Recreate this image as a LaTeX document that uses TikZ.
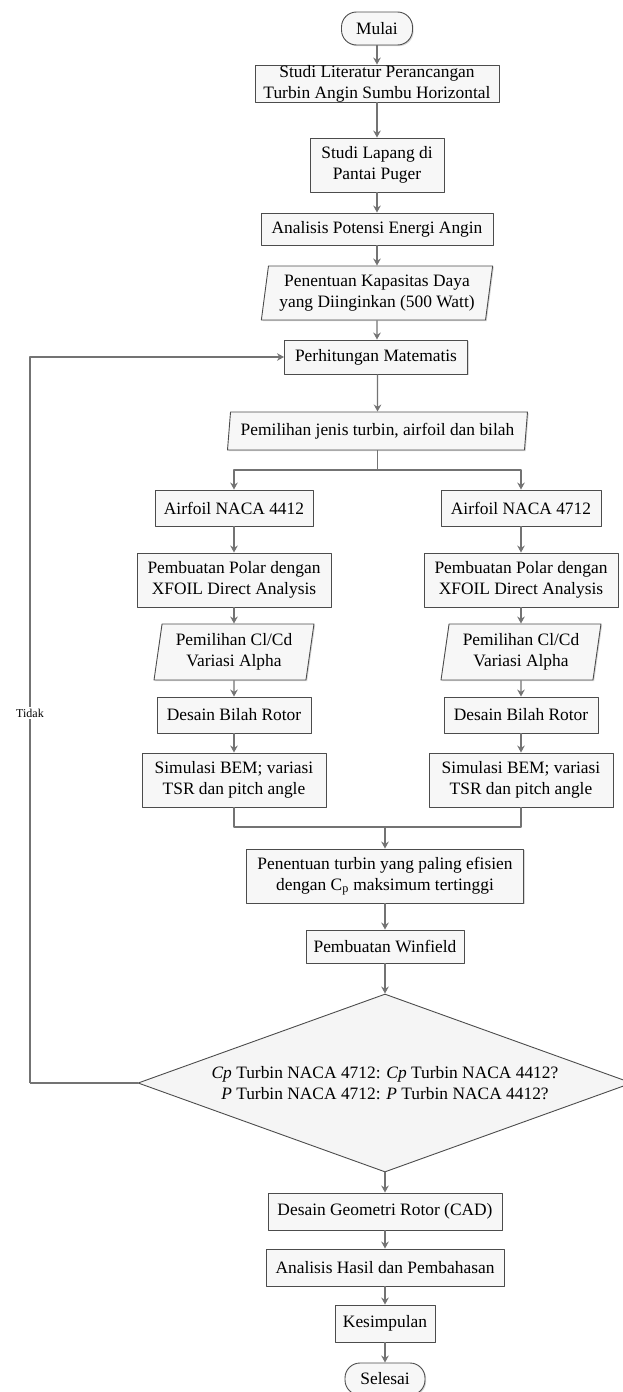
\documentclass[tikz,border=0pt]{standalone}
\usepackage{fontspec}
\setmainfont{Liberation Serif}
\usetikzlibrary{shapes.geometric,shadows,arrows.meta}
\begin{document}
\begin{tikzpicture}[x=1pt,y=-1pt,line join=round,>={Stealth[length=7pt,width=7.5pt]}]
 \tikzset{every node/.style={font=\fontsize{17.4}{21}\selectfont, align=center, inner sep=0pt},
  proc/.style={rectangle, draw=black!70, fill=black!3, line width=0.9pt,
   drop shadow={opacity=0.3, shadow xshift=1.2pt, shadow yshift=-1.2pt}},
  term/.style={proc, rounded corners=15pt},
  inout/.style={proc, trapezium, trapezium left angle=80, trapezium right angle=100, trapezium stretches=true},
  cond/.style={diamond, aspect=2.775, draw=black!70, fill=black!4, line width=0.9pt},
  arr/.style={->, draw=black!55, line width=1.3pt},
  ln/.style={draw=black!55, line width=1.1pt}}
 \useasboundingbox (0,0) rectangle (623,1392);
 % main column
 \node[term, minimum width=71, minimum height=33] (mulai) at (377,28.5) {Mulai};
 \node[proc, minimum width=244, minimum height=37] (lit) at (377,83.5) {Studi Literatur Perancangan\\Turbin Angin Sumbu Horizontal};
 \node[proc, minimum width=134, minimum height=54] (lapang) at (377,165) {Studi Lapang di\\Pantai Puger};
 \node[proc, minimum width=232, minimum height=32] (potensi) at (377,229) {Analisis Potensi Energi Angin};
 \node[inout, minimum width=232, minimum height=54] (daya) at (377,293) {Penentuan Kapasitas Daya\\yang Diinginkan (500 Watt)};
 \node[proc, minimum width=183, minimum height=34] (hitung) at (376,357) {Perhitungan Matematis};
 \node[inout, minimum width=301, minimum height=38] (jenis) at (377.5,431) {Pemilihan jenis turbin, airfoil dan bilah};
 % left branch
 \node[proc, minimum width=158, minimum height=36] (af1) at (234,508) {Airfoil NACA 4412};
 \node[proc, minimum width=194, minimum height=54] (pol1) at (234,580) {Pembuatan Polar dengan\\XFOIL Direct Analysis};
 \node[inout, minimum width=160, minimum height=56] (cl1) at (234,652) {Pemilihan Cl/Cd\\Variasi Alpha};
 \node[proc, minimum width=154, minimum height=36] (bil1) at (234,715) {Desain Bilah Rotor};
 \node[proc, minimum width=184, minimum height=54] (sim1) at (234,780) {Simulasi BEM; variasi\\TSR dan pitch angle};
 % right branch
 \node[proc, minimum width=160, minimum height=36] (af2) at (521,508) {Airfoil NACA 4712};
 \node[proc, minimum width=194, minimum height=54] (pol2) at (521,580) {Pembuatan Polar dengan\\XFOIL Direct Analysis};
 \node[inout, minimum width=160, minimum height=56] (cl2) at (521,652) {Pemilihan Cl/Cd\\Variasi Alpha};
 \node[proc, minimum width=154, minimum height=36] (bil2) at (521,715) {Desain Bilah Rotor};
 \node[proc, minimum width=184, minimum height=54] (sim2) at (521,780) {Simulasi BEM; variasi\\TSR dan pitch angle};
 % lower column
 \node[proc, minimum width=277, minimum height=54] (efisien) at (385,876) {Penentuan turbin yang paling efisien\\dengan C\textsubscript{p} maksimum tertinggi};
 \node[proc, minimum width=158, minimum height=33] (winfield) at (385,946.5) {Pembuatan Winfield};
 \node[cond, minimum width=494, minimum height=178] (cek) at (385,1083) {\textit{Cp} Turbin NACA 4712: \textit{Cp} Turbin NACA 4412?\\\textit{P} Turbin NACA 4712: \textit{P} Turbin NACA 4412?};
 \node[proc, minimum width=234, minimum height=37] (cad) at (385,1211.5) {Desain Geometri Rotor (CAD)};
 \node[proc, minimum width=238, minimum height=37] (hasil) at (385,1267.5) {Analisis Hasil dan Pembahasan};
 \node[proc, minimum width=100, minimum height=37] (simpul) at (385,1323.5) {Kesimpulan};
 \node[term, minimum width=80, minimum height=32] (selesai) at (385,1379) {Selesai};
 % connectors
 \draw[arr] (mulai) -- (lit);
 \draw[arr] (lit) -- (lapang);
 \draw[arr] (lapang) -- (potensi);
 \draw[arr] (potensi) -- (daya);
 \draw[arr] (daya) -- (hitung.north -| daya);
 \draw[arr] (hitung.south -| jenis) -- (jenis);
 \coordinate (pisah) at (377.5,470);
 \draw[ln] (jenis) -- (pisah);
 \draw[arr] (pisah) -| (af1);
 \draw[arr] (pisah) -| (af2);
 \draw[arr] (af1) -- (pol1);
 \draw[arr] (pol1) -- (cl1);
 \draw[arr] (cl1) -- (bil1);
 \draw[arr] (bil1) -- (sim1);
 \draw[arr] (af2) -- (pol2);
 \draw[arr] (pol2) -- (cl2);
 \draw[arr] (cl2) -- (bil2);
 \draw[arr] (bil2) -- (sim2);
 \coordinate (gabung) at (385,827);
 \draw[ln] (sim1) |- (gabung);
 \draw[ln] (sim2) |- (gabung);
 \draw[arr] (gabung) -- (efisien);
 \draw[arr] (efisien) -- (winfield);
 \draw[arr] (winfield) -- (cek);
 \draw[arr] (cek) -- (cad);
 \draw[arr] (cad) -- (hasil);
 \draw[arr] (hasil) -- (simpul);
 \draw[arr] (simpul) -- (selesai);
 % kembali ke perhitungan
 \coordinate (balik) at (30,1083);
 \draw[ln] (cek) -- (balik);
 \draw[arr] (balik) |- (hitung);
 \node[fill=white, inner sep=2pt, font=\fontsize{12}{14}\selectfont] (tidak) at (30,713) {Tidak};
\end{tikzpicture}
\end{document}
